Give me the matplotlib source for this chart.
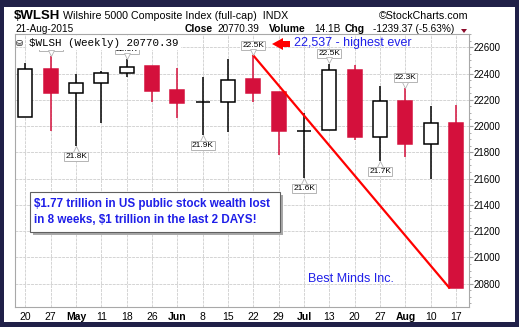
import matplotlib
matplotlib.use("Agg")
import matplotlib.pyplot as plt
from matplotlib.patches import Rectangle, Polygon
from matplotlib import transforms
import numpy as np

plt.rcParams['font.family'] = ['Liberation Sans', 'DejaVu Sans']
plt.rcParams['text.parse_math'] = False

# Weekly candles, $WLSH, Apr 20 - Aug 17 2015
week_labels = ['20', '27', 'May', '11', '18', '26', 'Jun', '8', '15', '22',
               '29', 'Jul', '13', '20', '27', 'Aug', '10', '17']
opens = [22071, 22437, 22255, 22331, 22407, 22455, 22272, 22180, 22186, 22356,
         22259, 21962, 21967, 22430, 21916, 22193, 21866, 22026]
highs = [22480, 22531, 22394, 22419, 22510, 22455, 22440, 22373, 22514, 22537,
         22259, 22099, 22476, 22463, 22305, 22293, 22155, 22158]
lows = [22071, 21962, 21845, 22026, 22373, 22183, 22061, 21929, 21954, 22183,
        21776, 21606, 21967, 21896, 21733, 21763, 21598, 20770]
closes = [22437, 22251, 22331, 22407, 22453, 22267, 22175, 22186, 22354, 22251,
          21962, 21962, 22430, 21916, 22193, 21862, 22026, 20770.39]

# value flags: (week index, "high"/"low", text)
flags = [(1, 'high', '22.5K'), (4, 'high', '22.5K'), (2, 'low', '21.8K'),
         (7, 'low', '21.9K'), (9, 'high', '22.5K'), (11, 'low', '21.6K'),
         (12, 'high', '22.5K'), (14, 'low', '21.7K'), (15, 'high', '22.3K')]

y_ticks = [20800, 21000, 21200, 21400, 21600, 21800, 22000, 22200, 22400, 22600]

W, H = 519, 327
RED = '#d4103c'
BLUE = '#1f1fe8'
NAVY = '#202048'


def fx(x):
    return x / W


def fy(y):
    return 1 - y / H


fig = plt.figure(figsize=(W / 100, H / 100), dpi=100)
fig.patch.set_facecolor(NAVY)
fig.patches.append(Rectangle((fx(4), fy(322)), fx(515) - fx(4), fy(7) - fy(322),
                             transform=fig.transFigure, facecolor='white',
                             edgecolor='none', zorder=-10))

ax = fig.add_axes([fx(15), fy(306.5), fx(468.5) - fx(15), fy(34) - fy(306.5)])
ax.set_facecolor('white')

x = np.arange(len(opens))
o = np.array(opens)
c = np.array(closes)
up = c >= o
body_w = 0.55

# wicks
ax.vlines(x[up], np.array(lows)[up], np.array(highs)[up], color='black', lw=1.1, zorder=3)
ax.vlines(x[~up], np.array(lows)[~up], np.array(highs)[~up], color=RED, lw=1.1, zorder=3)
# bodies
ax.bar(x[up], (c - o)[up], bottom=o[up], width=body_w, facecolor='white',
       edgecolor='black', lw=1.1, zorder=4)
ax.bar(x[~up], (o - c)[~up], bottom=c[~up], width=body_w, facecolor=RED,
       edgecolor=RED, lw=1.1, zorder=4)

# trend line from the record high to the latest close
i_top = int(np.argmax(highs))
ax.plot([x[i_top], x[-1] - body_w / 2], [highs[i_top], closes[-1]],
        color='#ff0000', lw=1.6, zorder=5)

# high / low flags
for i, kind, txt in flags:
    if kind == 'high':
        yv, off, mk = highs[i], 7, 'v'
    else:
        yv, off, mk = lows[i], -7.5, '^'
    ax.annotate(txt, (x[i], yv), xytext=(0, off), textcoords='offset points',
                ha='center', va='center', fontsize=6, zorder=6, annotation_clip=False,
                bbox=dict(boxstyle='square,pad=0.12', fc='white', ec='#b4b4b4', lw=0.7))
    tr = transforms.offset_copy(ax.transData, fig=fig, x=0, y=2.2 if kind == 'high' else -2.2,
                                units='points')
    ax.plot(x[i], yv, marker=mk, ms=4, mfc='white', mec='#b4b4b4', mew=0.6,
            transform=tr, zorder=6, clip_on=False)

ax.set_xlim(-0.41, 17.49)
ax.set_ylim(20626, 22701)

ax.set_xticks(x)
ax.set_xticklabels(week_labels, fontsize=7.5)
for lbl in ax.get_xticklabels():
    if lbl.get_text().isalpha():
        lbl.set_fontweight('bold')
ax.tick_params(axis='x', length=0, pad=4)

ax.yaxis.tick_right()
ax.set_yticks(y_ticks)
ax.set_yticklabels([str(v) for v in y_ticks], fontsize=7)
ax.set_yticks(np.arange(20650, 22701, 50), minor=True)
ax.tick_params(axis='y', which='major', length=3, color='#a0a0a0', pad=1)
ax.tick_params(axis='y', which='minor', length=1.5, color='#a0a0a0')

ax.grid(True, which='major', color='#d4d4d4', lw=0.7, ls=(0, (3, 1)), zorder=0)
ax.set_axisbelow(True)
for s in ax.spines.values():
    s.set_color('#a8a8a8')
    s.set_linewidth(0.8)

# legend line inside the plot (covers the flags under it)
fig.text(fx(16), fy(43), '\u26c1', fontsize=6, va='center', family='DejaVu Sans', zorder=10)
fig.text(fx(29), fy(43), '$WLSH (Weekly) 20770.39', fontsize=7.8, va='center',
         family='Liberation Mono', zorder=10,
         bbox=dict(boxstyle='square,pad=0.2', fc='white', ec='none'))

# header
fig.text(fx(14), fy(16), '$WLSH', fontsize=9.5, fontweight='bold', va='center')
fig.text(fx(63), fy(16), 'Wilshire 5000 Composite Index (full-cap)  INDX', fontsize=7.7, va='center')
fig.text(fx(468), fy(16), '\u00a9StockCharts.com', fontsize=7.7, va='center', ha='right')
fig.text(fx(15), fy(29), '21-Aug-2015', fontsize=7.2, va='center')
fig.text(fx(185), fy(29), 'Close', fontsize=7.4, fontweight='bold', va='center')
fig.text(fx(217), fy(29), '20770.39', fontsize=7.2, va='center')
fig.text(fx(269), fy(29), 'Volume', fontsize=7.4, fontweight='bold', va='center')
fig.text(fx(314), fy(29), '14.1B', fontsize=7.2, va='center')
fig.text(fx(345), fy(29), 'Chg', fontsize=7.4, fontweight='bold', va='center')
fig.text(fx(373), fy(29), '-1239.37 (-5.63%)', fontsize=7.2, va='center')
fig.patches.append(Polygon([(fx(461), fy(29)), (fx(467), fy(29)), (fx(464), fy(33))],
                           closed=True, transform=fig.transFigure, fc='#8b0a2a', ec='none'))

# record-high callout
fig.patches.append(Polygon([(fx(272), fy(44)), (fx(283), fy(38)), (fx(283), fy(41)),
                            (fx(290), fy(41)), (fx(290), fy(47)), (fx(283), fy(47)),
                            (fx(283), fy(50))], closed=True, transform=fig.transFigure,
                           fc='#ff0000', ec='none', zorder=10))
fig.text(fx(294), fy(43), '22,537 - highest ever', fontsize=9, color=BLUE, va='center', zorder=10)

# comment box with shadow
fig.patches.append(Rectangle((fx(33), fy(235)), fx(280) - fx(30), fy(192) - fy(232),
                             transform=fig.transFigure, fc='#a8a8a8', ec='none', zorder=9))
fig.patches.append(Rectangle((fx(30), fy(232)), fx(280) - fx(30), fy(192) - fy(232),
                             transform=fig.transFigure, fc='white', ec='#606060', lw=0.8, zorder=9))
fig.text(fx(34), fy(212), '$1.77 trillion in US public stock wealth lost\n'
         'in 8 weeks, $1 trillion in the last 2 DAYS!', fontsize=8.4, fontweight='bold',
         color=BLUE, va='center', linespacing=1.45, zorder=10)

fig.text(fx(308), fy(279), 'Best Minds Inc.', fontsize=9, color=BLUE, va='center', zorder=10)

fig.savefig('out.png', dpi=100, facecolor=fig.get_facecolor())
